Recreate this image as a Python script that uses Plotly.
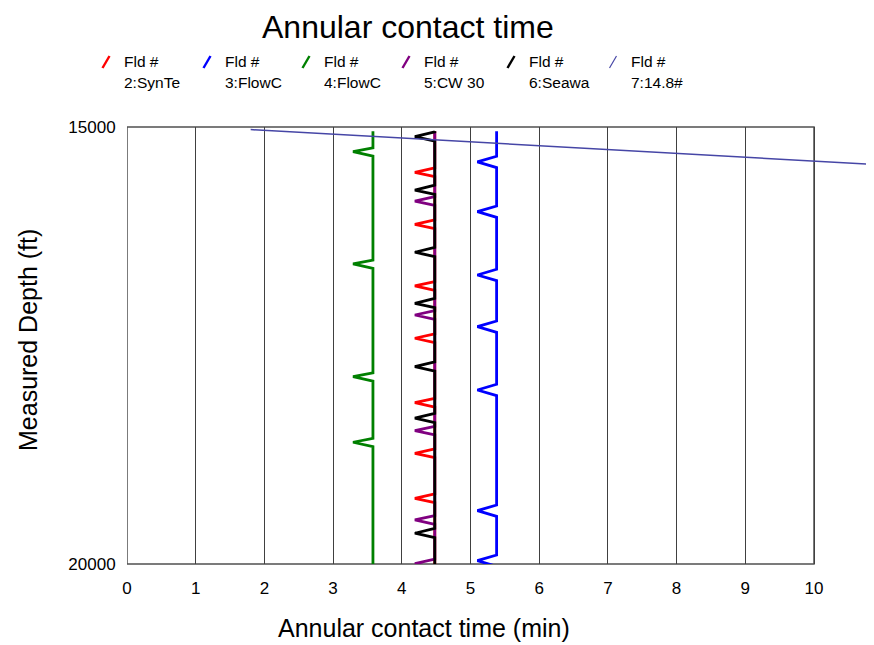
import plotly.graph_objects as go

# ---------------- data ----------------
legend_line1 = ["Fld #", "Fld #", "Fld #", "Fld #", "Fld #", "Fld #"]
legend_line2 = ["2:SynTe", "3:FlowC", "4:FlowC", "5:CW 30", "6:Seawa", "7:14.8#"]
colors = ["#ff0000", "#0000ff", "#008000", "#800080", "#000000", "#4646a6"]

# contact time (min): steady value and value at each dip
red_base, red_dip = 4.48, 4.19
blue_base, blue_dip = 5.38, 5.10
green_base, green_dip = 3.58, 3.29
purple_base, purple_dip = 4.48, 4.19
black_base, black_dip = 4.48, 4.19

# depths (ft) of the dips
red_dips = [15518, 16113, 16819, 17417, 18154, 18733, 19248]
blue_dips = [15400, 15969, 16693, 17285, 18009, 19390, 19962]
green_dips = [15283, 16567, 17857, 18607]
purple_dips = [15847, 17151, 18474, 19496, 19995]
black_dips = [15111, 15721, 16433, 17017, 17742, 18332, 19648]

top_depth = 15050
bottom_depth = 20000

# fluid 7 line
f7_time = [1.8, 10.9]
f7_depth = [15030, 15430]

x_ticks = list(range(0, 11))
y_ticks = [15000, 20000]


def zigzag(base, dip, dips, half_up, half_down):
    xs, ys = [base], [top_depth]
    for d in dips:
        xs += [base, dip, base]
        ys += [d - half_up, d, d + half_down]
    last = max(ys[-1], bottom_depth)
    xs.append(base)
    ys.append(last)
    return xs, ys


series = [
    zigzag(red_base, red_dip, red_dips, 50, 50),
    zigzag(blue_base, blue_dip, blue_dips, 65, 65),
    zigzag(green_base, green_dip, green_dips, 45, 50),
    zigzag(purple_base, purple_dip, purple_dips, 50, 50),
    zigzag(black_base, black_dip, black_dips, 55, 50),
]

# ---------------- layout geometry ----------------
OFF = 8  # page body margin
W, H = 874 - OFF, 645 - OFF
L, R, T, B = 127 - OFF, 0, 127 - OFF, 645 - 564
PW, PH = W - L - R, H - T - B
px_per_min = 68.7
x_max = PW / px_per_min


def px2x(px):
    return (px - OFF - L) / PW


def px2y(py):
    return (H - B - (py - OFF)) / PH


fig = go.Figure()
for (xs, ys), c, n in zip(series, colors[:5], legend_line2[:5]):
    fig.add_trace(go.Scatter(x=xs, y=ys, mode="lines", name=n,
                             line=dict(color=c, width=2.8), showlegend=False))
fig.add_trace(go.Scatter(x=f7_time, y=f7_depth, mode="lines", name=legend_line2[5],
                         line=dict(color=colors[5], width=1.5), showlegend=False))

font = "Liberation Sans, Arial, sans-serif"

shapes = [
    dict(type="rect", xref="x", yref="paper", x0=0, x1=10, y0=0, y1=1,
         line=dict(color="#505050", width=1.5), layer="below"),
]
annotations = []

# legend
sym_cx = [106, 207, 306, 406, 511, 613]
for i, cx in enumerate(sym_cx):
    shapes.append(dict(type="line", xref="paper", yref="paper",
                       x0=px2x(cx - 3.5), x1=px2x(cx + 3.5),
                       y0=px2y(68), y1=px2y(56),
                       line=dict(color=colors[i], width=2.4 if i < 5 else 1.2)))
    annotations.append(dict(xref="paper", yref="paper", x=px2x(cx + 16), y=px2y(62),
                            text=legend_line1[i], showarrow=False, xanchor="left",
                            yanchor="middle", font=dict(size=15.5, color="black", family=font)))
    annotations.append(dict(xref="paper", yref="paper", x=px2x(cx + 16), y=px2y(82),
                            text=legend_line2[i], showarrow=False, xanchor="left",
                            yanchor="middle", font=dict(size=15.5, color="black", family=font)))

# titles
annotations.append(dict(xref="paper", yref="paper", x=px2x(408), y=px2y(27),
                        text="Annular contact time", showarrow=False,
                        xanchor="center", yanchor="middle",
                        font=dict(size=32, color="black", family=font)))
annotations.append(dict(xref="paper", yref="paper", x=px2x(424), y=px2y(628),
                        text="Annular contact time (min)", showarrow=False,
                        xanchor="center", yanchor="middle",
                        font=dict(size=25, color="black", family=font)))
annotations.append(dict(xref="paper", yref="paper", x=px2x(28), y=px2y(340),
                        text="Measured Depth (ft)", showarrow=False, textangle=-90,
                        xanchor="center", yanchor="middle",
                        font=dict(size=25, color="black", family=font)))

fig.update_layout(
    width=W, height=H,
    margin=dict(l=L, r=R, t=T, b=B, pad=0),
    paper_bgcolor="white", plot_bgcolor="white",
    showlegend=False,
    shapes=shapes, annotations=annotations,
    xaxis=dict(range=[0, x_max], tickvals=x_ticks, ticktext=[str(v) for v in x_ticks],
               showgrid=True, gridcolor="#404040", gridwidth=1, zeroline=False,
               showline=False, ticks="outside", ticklen=9, tickcolor="rgba(0,0,0,0)",
               tickfont=dict(size=17, color="black", family=font)),
    yaxis=dict(range=[bottom_depth, 15000], tickvals=y_ticks,
               ticktext=[str(v) for v in y_ticks],
               showgrid=False, zeroline=False, showline=False,
               ticks="outside", ticklen=7, tickcolor="rgba(0,0,0,0)",
               tickfont=dict(size=17, color="black", family=font)),
)

fig.write_html("out.html")
